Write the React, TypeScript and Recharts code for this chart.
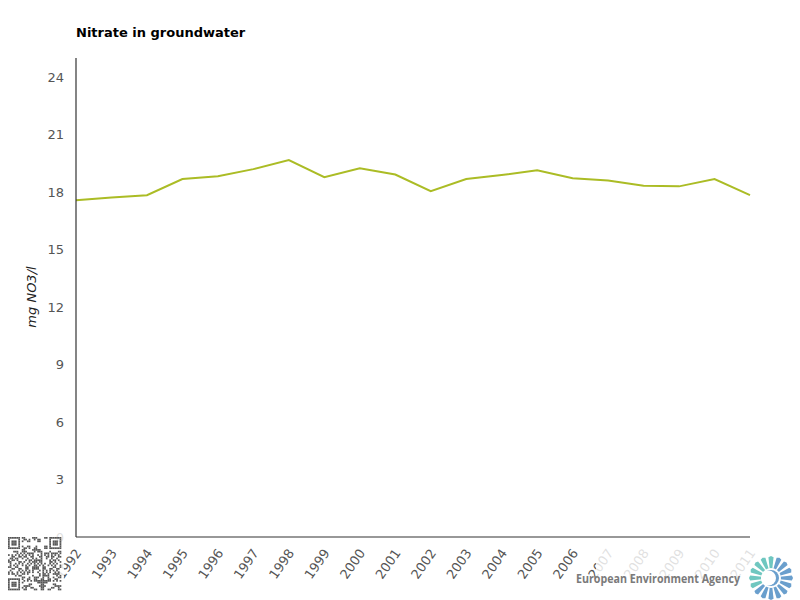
import { LineChart, Line, XAxis, YAxis } from 'recharts';

const years = [
  '1992', '1993', '1994', '1995', '1996', '1997', '1998', '1999', '2000', '2001',
  '2002', '2003', '2004', '2005', '2006', '2007', '2008', '2009', '2010', '2011',
];

const nitrate = [
  17.58, 17.72, 17.84, 18.68, 18.83, 19.2, 19.67, 18.78, 19.25, 18.92,
  18.05, 18.68, 18.89, 19.14, 18.72, 18.61, 18.33, 18.3, 18.68, 17.84,
];

const yTicks = [0, 3, 6, 9, 12, 15, 18, 21, 24];

const data = years.map((year, i) => ({ year, value: nitrate[i] }));

const FONT = '"DejaVu Sans", Verdana, sans-serif';
const LINE_COLOR = '#abbc25';

function YearTick({ x, y, payload }: any) {
  const ax = x + 6;
  const ay = y + 8;
  return (
    <text
      x={ax}
      y={ay}
      transform={`rotate(-55, ${ax}, ${ay})`}
      textAnchor="end"
      fontSize={13}
      fill="#555"
      fontFamily={FONT}
    >
      {payload.value}
    </text>
  );
}

// small QR-like block, bottom left
function QrBlock() {
  const cells: JSX.Element[] = [];
  const n = 31;
  const s = 1.72;
  const x0 = 8;
  const y0 = 537;
  const finder = (r: number, c: number) => {
    const inBox = (r0: number, c0: number) =>
      r >= r0 && r < r0 + 7 && c >= c0 && c < c0 + 7;
    for (const [r0, c0] of [[0, 0], [0, n - 7], [n - 7, 0]]) {
      if (inBox(r0, c0)) {
        const rr = r - r0;
        const cc = c - c0;
        if (rr === 0 || rr === 6 || cc === 0 || cc === 6) return 1;
        if (rr >= 2 && rr <= 4 && cc >= 2 && cc <= 4) return 1;
        return 0;
      }
      if (r >= r0 - 1 && r <= r0 + 7 && c >= c0 - 1 && c <= c0 + 7) return 0;
    }
    return -1;
  };
  for (let r = 0; r < n; r++) {
    for (let c = 0; c < n; c++) {
      let on = finder(r, c);
      if (on === -1) on = ((r * 11 + c * 7 + r * c * 5 + (r ^ c)) % 7) < 3 ? 1 : 0;
      if (on) {
        cells.push(
          <rect key={`${r}-${c}`} x={x0 + c * s} y={y0 + r * s} width={s} height={s} fill="#555" />
        );
      }
    }
  }
  return <g>{cells}</g>;
}

function EeaLogo() {
  const cx = 771;
  const cy = 578;
  const petals: JSX.Element[] = [];
  const count = 16;
  const deg = Math.PI / 180;
  for (let i = 0; i < count; i++) {
    const a = (i * 360) / count - 90;
    const rad = a * deg;
    const p = (r: number, t: number) => `${cx + Math.cos(t) * r},${cy + Math.sin(t) * r}`;
    const norm = ((a % 360) + 360) % 360;
    const teal = norm >= 150 && norm <= 275;
    petals.push(
      <polygon
        key={i}
        points={`${p(9, rad - 8 * deg)} ${p(21, rad - 7 * deg)} ${p(22, rad)} ${p(21, rad + 7 * deg)} ${p(9, rad + 8 * deg)}`}
        fill={teal ? '#6fc7c0' : '#6a9fcd'}
      />
    );
  }
  return (
    <g>
      {petals}
      <circle cx={cx} cy={cy} r={10} fill="#fff" />
      <circle cx={cx} cy={cy} r={8} fill="#6a9fcd" />
      <circle cx={cx - 2.5} cy={cy} r={7.5} fill="#fff" />
    </g>
  );
}

export default function App() {
  return (
    <div style={{ position: 'absolute', left: 0, top: 0, width: 800, height: 600, background: '#fff' }}>
      <LineChart
        width={800}
        height={600}
        data={data}
        margin={{ top: 58, right: 50, bottom: 0, left: 16 }}
      >
        <XAxis
          dataKey="year"
          height={63}
          interval={0}
          tickLine={false}
          axisLine={{ stroke: '#333', strokeWidth: 1.2 }}
          tick={<YearTick />}
        />
        <YAxis
          width={60}
          domain={[0, 25]}
          ticks={yTicks}
          interval={0}
          tickLine={false}
          tickSize={0}
          tickMargin={12}
          axisLine={{ stroke: '#333', strokeWidth: 1.2 }}
          tick={{ fontSize: 13, fill: '#555', fontFamily: FONT }}
        />
        <Line
          type="linear"
          dataKey="value"
          stroke={LINE_COLOR}
          strokeWidth={2}
          dot={false}
          activeDot={false}
          isAnimationActive={false}
        />
      </LineChart>
      <svg
        width={800}
        height={600}
        style={{ position: 'absolute', left: 0, top: 0, pointerEvents: 'none' }}
      >
        <text x={76} y={37} fontSize={13} fontWeight="bold" fill="#000" fontFamily={FONT}>
          Nitrate in groundwater
        </text>
        <text
          x={36}
          y={297}
          transform="rotate(-90, 36, 297)"
          textAnchor="middle"
          fontSize={13}
          fontStyle="italic"
          fill="#222"
          fontFamily={FONT}
        >
          mg NO3/l
        </text>
        <rect x={6} y={528} width={58} height={66} fill="#fff" opacity={0.82} />
        <QrBlock />
        <rect x={596} y={540} width={204} height={60} fill="#fff" opacity={0.82} />
        <text
          x={576}
          y={583}
          fontSize={13}
          fontWeight="bold"
          fill="#7a7a7a"
          fontFamily={'"Open Sans", sans-serif'}
          textLength={164}
          lengthAdjust="spacingAndGlyphs"
        >
          European Environment Agency
        </text>
        <EeaLogo />
      </svg>
    </div>
  );
}
